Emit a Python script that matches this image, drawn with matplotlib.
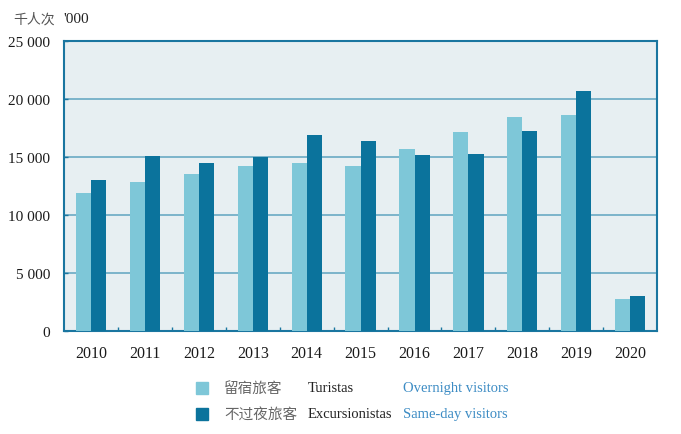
import numpy as np
import matplotlib
matplotlib.use("Agg")
import matplotlib.pyplot as plt
from matplotlib.patches import Rectangle

# data (thousands of visitors)
years = ["2010", "2011", "2012", "2013", "2014", "2015", "2016", "2017", "2018", "2019", "2020"]
overnight = [11900, 12870, 13530, 14200, 14500, 14250, 15660, 17200, 18450, 18600, 2790]
sameday = [13000, 15060, 14450, 15000, 16900, 16400, 15200, 15300, 17270, 20700, 3020]
yticks = [0, 5000, 10000, 15000, 20000, 25000]
ytick_labels = ["0", "5 000", "10 000", "15 000", "20 000", "25 000"]

light = "#7ec7d8"
dark = "#0b739c"
spine_col = "#1a76a0"
grid_col = "#6aaac4"
serif = "Liberation Serif"
cjk = ["Noto Sans CJK SC", "DejaVu Sans"]

fig = plt.figure(figsize=(6.81, 4.35), dpi=100)
ax = fig.add_axes([0.094, 0.237, 0.871, 0.666])
ax.set_facecolor("#e7eff2")

x = np.arange(len(years))
w = 0.28
ax.bar(x - w / 2, overnight, w, color=light, zorder=3)
ax.bar(x + w / 2, sameday, w, color=dark, zorder=3)

ax.set_xlim(-0.5, len(years) - 0.5)
ax.set_ylim(0, 25000)
ax.set_yticks(yticks)
ax.set_yticklabels(ytick_labels, fontfamily=serif, fontsize=11, color="#1a1a1a")
ax.yaxis.grid(True, color=grid_col, linewidth=1.2, zorder=1)

# year labels at centres, ticks on category boundaries
ax.set_xticks(x)
ax.set_xticklabels(years, fontfamily=serif, fontsize=11.5, color="#1a1a1a")
ax.tick_params(axis="x", which="major", length=0, pad=10)
ax.set_xticks(x[:-1] + 0.5, minor=True)
ax.tick_params(axis="x", which="minor", direction="in", length=3, color=spine_col, width=1)
ax.tick_params(axis="y", direction="in", length=3, color=spine_col, width=1, pad=10)

for s in ax.spines.values():
    s.set_color(spine_col)
    s.set_linewidth(1.5)

# unit header
fig.text(0.02, 0.955, "千人次", family=cjk, fontsize=10, color="#555555", va="center")
fig.text(0.093, 0.955, "'000", family=serif, fontsize=11, color="#222222", va="center")

# legend
rows = [(light, "留宿旅客", "Turistas", "Overnight visitors"),
        (dark, "不过夜旅客", "Excursionistas", "Same-day visitors")]
for i, (c, zh, pt, en) in enumerate(rows):
    yy = 1 - (389 + i * 26) / 435
    fig.patches.append(Rectangle((196 / 681, yy - 6 / 435), 12 / 681, 12 / 435,
                                 transform=fig.transFigure, color=c))
    fig.text(224 / 681, yy, zh, family=cjk, fontsize=10.5, color="#666666", va="center")
    fig.text(308 / 681, yy, pt, family=serif, fontsize=10.5, color="#222222", va="center")
    fig.text(403 / 681, yy, en, family=serif, fontsize=10.5, color="#3d8cc4", va="center")

fig.savefig("out.png", dpi=100)
